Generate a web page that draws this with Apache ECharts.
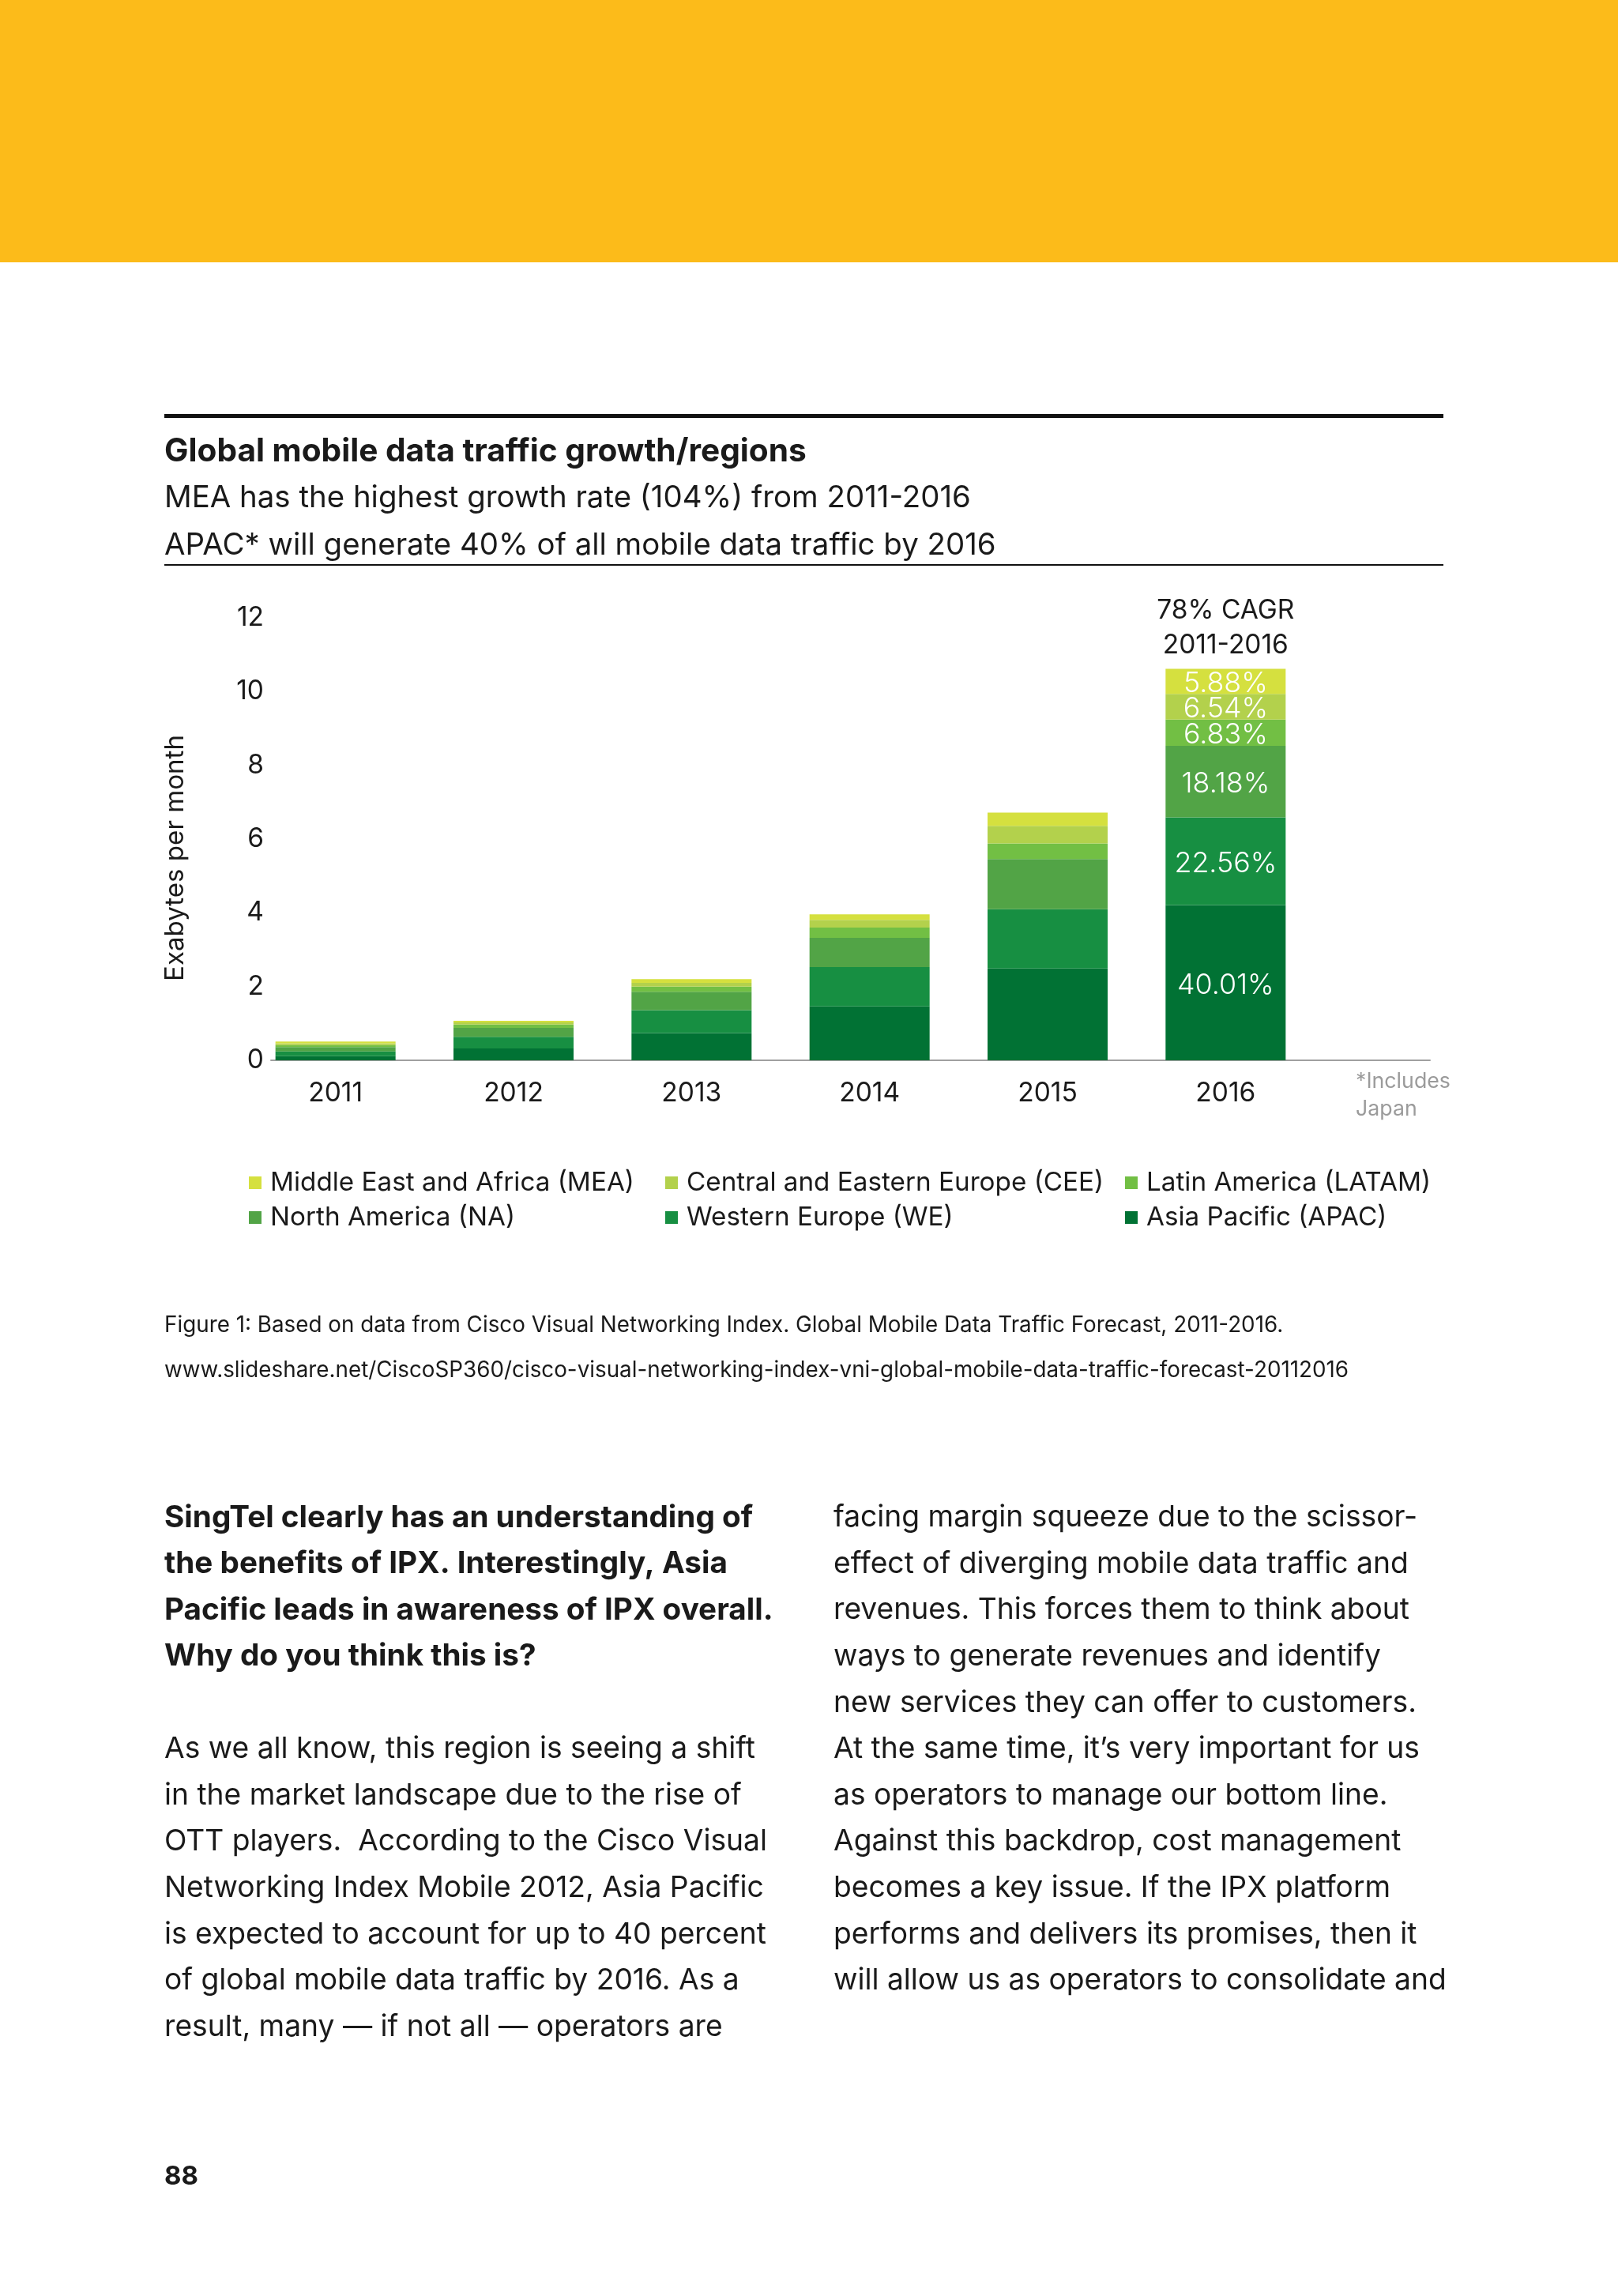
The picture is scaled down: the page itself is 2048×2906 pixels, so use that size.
<!DOCTYPE html>
<html><head><meta charset="utf-8">
<script src="https://cdn.jsdelivr.net/npm/echarts@6/dist/echarts.min.js"></script>
<style>html,body{margin:0;padding:0;background:#fff}#c{width:2048px;height:2906px}</style>
</head><body><div id="c"></div><script>
// ---- data ----
const years = ['2011', '2012', '2013', '2014', '2015', '2016'];
const apac  = [0.11, 0.32, 0.74, 1.46, 2.49, 4.21];
const we    = [0.13, 0.32, 0.62, 1.07, 1.61, 2.38];
const na    = [0.12, 0.24, 0.50, 0.79, 1.36, 1.94];
const latam = [0.05, 0.09, 0.14, 0.28, 0.42, 0.71];
const cee   = [0.05, 0.06, 0.10, 0.21, 0.48, 0.70];
const mea   = [0.05, 0.04, 0.10, 0.15, 0.36, 0.68];
const seriesNames = ['Asia Pacific (APAC)', 'Western Europe (WE)', 'North America (NA)',
  'Latin America (LATAM)', 'Central and Eastern Europe (CEE)', 'Middle East and Africa (MEA)'];
const share2016 = ['40.01%', '22.56%', '18.18%', '6.83%', '6.54%', '5.88%'];
const cagrLines = ['78% CAGR', '2011-2016'];
const yTicks = [0, 2, 4, 6, 8, 10, 12];
const titleText = 'Global mobile data traffic growth/regions';
const subLines = ['MEA has the highest growth rate (104%) from 2011-2016',
  'APAC* will generate 40% of all mobile data traffic by 2016'];
const yName = 'Exabytes per month';
const noteLines = ['*Includes', 'Japan'];
const captionLines = ['Figure 1: Based on data from Cisco Visual Networking Index. Global Mobile Data Traffic Forecast, 2011-2016.',
  'www.slideshare.net/CiscoSP360/cisco-visual-networking-index-vni-global-mobile-data-traffic-forecast-20112016'];
const boldLines = ['SingTel clearly has an understanding of', 'the benefits of IPX. Interestingly, Asia',
  'Pacific leads in awareness of IPX overall.', 'Why do you think this is?'];
const leftLines = ['As we all know, this region is seeing a shift', 'in the market landscape due to the rise of',
  'OTT players.  According to the Cisco Visual', 'Networking Index Mobile 2012, Asia Pacific',
  'is expected to account for up to 40 percent', 'of global mobile data traffic by 2016. As a',
  'result, many \u2014 if not all \u2014 operators are'];
const rightLines = ['facing margin squeeze due to the scissor-', 'effect of diverging mobile data traffic and',
  'revenues. This forces them to think about', 'ways to generate revenues and identify',
  'new services they can offer to customers.', 'At the same time, it\u2019s very important for us',
  'as operators to manage our bottom line.', 'Against this backdrop, cost management',
  'becomes a key issue. If the IPX platform', 'performs and delivers its promises, then it',
  'will allow us as operators to consolidate and'];
const pageNum = '88';

// ---- styles ----
const FAM = 'Inter';
const INK = '#1a1a1a';
const colors = ['#017234', '#178f42', '#52a446', '#72bf44', '#b3d14c', '#d5e03f'];
const mctx = document.createElement('canvas').getContext('2d');
function fit(text, weight, target) {
  mctx.font = weight + ' 100px "' + FAM + '"';
  return 100 * target / mctx.measureText(text).width;
}
const fsTitle = fit(titleText, 700, 813);
const fsSub = fit(subLines[0], 400, 1021);
const fsBold = fit(boldLines[2], 700, 771);
const fsBody = fit(rightLines[10], 400, 776);
const fsCap = fit(captionLines[0], 400, 1417);
const fsLeg = fit(seriesNames[5], 400, 461);
const fsAxis = fit(cagrLines[0], 400, 174);
const fsPct = fit(share2016[2], 400, 115);
const fsYName = fit(yName, 400, 312);
const fsNote = fit(noteLines[0], 400, 120);
const fsPage = fit(pageNum, 700, 43);

const all = [apac, we, na, latam, cee, mea];
const total2016 = all.reduce((s, a) => s + a[5], 0);

const series = all.map((arr, k) => ({
  name: seriesNames[k], type: 'bar', stack: 'total', xAxisIndex: 0, yAxisIndex: 0,
  barWidth: 152, itemStyle: { color: colors[k] },
  data: arr.map((v, i) => i === 5 ? {
    value: v, label: { show: true, position: 'inside', formatter: share2016[k],
      color: '#fff', fontSize: fsPct, fontFamily: FAM, fontWeight: 300, offset: [0, 3] } } : v),
  markPoint: k === 5 ? {
    symbol: 'rect', symbolSize: 1, itemStyle: { color: 'rgba(0,0,0,0)' },
    label: { show: true, position: 'top', distance: 7, formatter: cagrLines.join('\n'),
      color: INK, fontSize: fsAxis, fontFamily: FAM, lineHeight: 44 },
    data: [{ coord: ['2016', total2016] }]
  } : undefined
}));

function textEl(x, y, lines, fs, weight, color, lh, align) {
  return { type: 'text', x: x, y: y, silent: true, style: {
    text: lines.join('\n'), fontSize: fs, fontFamily: FAM, fontWeight: weight,
    fill: color, lineHeight: lh, align: align || 'left', verticalAlign: 'top' } };
}

const legendCols = [[seriesNames[5], seriesNames[2]], [seriesNames[4], seriesNames[1]], [seriesNames[3], seriesNames[0]]];
const legendLeft = [310, 837, 1419];

const option = {
  backgroundColor: '#fff',
  animation: false,
  grid: [
    { left: 312, width: 1352, top: 782, height: 560 },
    { left: 343, width: 1467, top: 782, height: 560 }
  ],
  xAxis: [
    { type: 'category', gridIndex: 0, data: years, axisLine: { show: false }, axisTick: { show: false },
      axisLabel: { color: INK, fontSize: fsAxis, fontFamily: FAM, margin: 25 } },
    { type: 'value', gridIndex: 1, min: 0, max: 1, axisLine: { show: true, lineStyle: { color: '#a0a0a0', width: 2 } },
      axisTick: { show: false }, axisLabel: { show: false }, splitLine: { show: false } }
  ],
  yAxis: [
    { type: 'value', gridIndex: 0, min: 0, max: 12, interval: 2, show: false, splitLine: { show: false } },
    { type: 'value', gridIndex: 1, min: 0, max: 12, interval: 2, axisLine: { show: false }, axisTick: { show: false },
      splitLine: { show: false }, axisLabel: { color: INK, fontSize: fsAxis, fontFamily: FAM, margin: 9 } }
  ],
  legend: legendCols.map((names, c) => ({
    data: names, orient: 'vertical', left: legendLeft[c], top: 1474, itemGap: 8,
    itemWidth: 16, itemHeight: 16, icon: 'rect', selectedMode: false,
    textStyle: { color: INK, fontSize: fsLeg, fontFamily: FAM, lineHeight: 36, padding: [0, 0, 0, 6] }
  })),
  series: series,
  graphic: [
    { type: 'rect', shape: { x: 0, y: 0, width: 2048, height: 332 }, style: { fill: '#fcbb1a' }, silent: true },
    { type: 'rect', shape: { x: 208, y: 524, width: 1619, height: 5 }, style: { fill: '#111' }, silent: true },
    { type: 'rect', shape: { x: 208, y: 714, width: 1619, height: 2 }, style: { fill: '#111' }, silent: true },
    textEl(208, 572 - 30, [titleText], fsTitle, 700, INK, 60),
    textEl(208, 630 - 30, subLines, fsSub, 400, INK, 60),
    { type: 'text', x: 222, y: 1086, rotation: Math.PI / 2, silent: true,
      style: { text: yName, fontSize: fsYName, fontFamily: FAM, fill: INK, align: 'center', verticalAlign: 'middle' } },
    textEl(1716, 1369 - 17.5, noteLines, fsNote, 400, '#9b9b9b', 35),
    textEl(208, 1678 - 28.5, captionLines, fsCap, 400, INK, 57),
    textEl(208, 1921 - 29.3, boldLines, fsBold, 700, INK, 58.6),
    textEl(208, 2214 - 29.3, leftLines, fsBody, 400, INK, 58.6),
    textEl(1055, 1921 - 29.3, rightLines, fsBody, 400, INK, 58.6),
    textEl(208, 2755 - 25, [pageNum], fsPage, 700, INK, 50)
  ]
};
const chart = echarts.init(document.getElementById('c'), null, { renderer: 'canvas' });
chart.setOption(option);
</script></body></html>
